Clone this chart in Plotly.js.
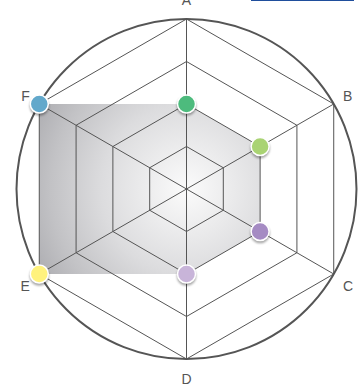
<!DOCTYPE html>
<html><head><meta charset="utf-8">
<script src="https://cdn.plot.ly/plotly-3.0.1.min.js"></script>
<style>
html,body{margin:0;padding:0;background:#fff;}
#chart{width:361px;height:387px;}
.polar3 .point{filter:drop-shadow(0px 2px 1px rgba(0,0,0,0.35));}
</style>
</head><body><div id="chart"></div>
<script>
const categories = ['A','B','C','D','E','F'];
const values = [2, 2, 2, 2, 4, 4];
const pointColors = ['#4dbb7d','#a9d373','#a58bc3','#c8b4d9','#fff27d','#62a8cb'];
const radialRange = [0, 4];
const gridLevels = [1, 2, 3, 4];

const W = 361, H = 387;
const dom = {x: [16.5/W, 356.5/W], y: [28/H, 368/H]};
const labelFont = {family: 'Liberation Sans, Arial, sans-serif', size: 14, color: '#555'};

const traces = [
  {type:'scatterpolar', subplot:'polar', r: values, theta: categories,
   mode:'lines', fill:'toself', fillcolor:'#cfcfd1', line:{width:0, color:'rgba(0,0,0,0)'}, hoverinfo:'skip'},
  {type:'scatterpolar', subplot:'polar2', r: values, theta: categories, mode:'none', hoverinfo:'skip'},
  {type:'scatterpolar', subplot:'polar3', r: values, theta: categories, mode:'markers',
   marker:{size:18, color: pointColors, line:{color:'#fff', width:1.5}}, hoverinfo:'skip'}
];

const layout = {
  width: W, height: H, margin:{l:0,r:0,t:0,b:0}, showlegend:false,
  paper_bgcolor:'#fff',
  font: labelFont,
  polar: {
    domain: dom, gridshape:'circular', bgcolor:'#fff',
    radialaxis:{range: radialRange, visible:false},
    angularaxis:{direction:'clockwise', rotation:90, showgrid:false, showline:true,
      linecolor:'#555', linewidth:2, ticks:'outside', ticklen:7, tickcolor:'rgba(0,0,0,0)',
      tickfont: labelFont}
  },
  polar2: {
    domain: dom, gridshape:'linear', bgcolor:'rgba(0,0,0,0)',
    radialaxis:{range: radialRange, tickvals: gridLevels, showticklabels:false, ticks:'',
      showline:false, showgrid:true, gridcolor:'#555', gridwidth:1},
    angularaxis:{direction:'clockwise', rotation:90, showgrid:true, gridcolor:'#555', gridwidth:1,
      showline:true, linecolor:'#555', linewidth:1, showticklabels:false, ticks:''}
  },
  polar3: {
    domain: dom, bgcolor:'rgba(0,0,0,0)',
    radialaxis:{range: radialRange, visible:false},
    angularaxis:{direction:'clockwise', rotation:90, visible:false}
  },
  shapes: [{type:'line', xref:'paper', yref:'paper', x0:251/W, x1:354/W, y0:1, y1:1,
    line:{color:'#1f4e9c', width:2}}]
};

Plotly.newPlot('chart', traces, layout, {staticPlot:true}).then(gd => {
  const svg = gd.querySelector('.main-svg');
  const path = gd.querySelector('.js-fill');
  if (!svg || !path) return;
  const ns = 'http://www.w3.org/2000/svg';
  const pt = svg.createSVGPoint();
  pt.x = (dom.x[0]+dom.x[1])/2*W; pt.y = (1-(dom.y[0]+dom.y[1])/2)*H;
  const loc = pt.matrixTransform(path.getScreenCTM().inverse());
  const rad = (dom.x[1]-dom.x[0])*W/2;
  let defs = svg.querySelector('defs');
  if (!defs) { defs = document.createElementNS(ns,'defs'); svg.insertBefore(defs, svg.firstChild); }
  const g = document.createElementNS(ns,'radialGradient');
  g.setAttribute('id','fillGrad'); g.setAttribute('gradientUnits','userSpaceOnUse');
  g.setAttribute('cx', loc.x); g.setAttribute('cy', loc.y); g.setAttribute('r', rad);
  [[0,'#fbfbfb'],[0.5,'#dcdcde'],[0.8,'#c2c2c5'],[1,'#adadb1']].forEach(([o,c]) => {
    const s = document.createElementNS(ns,'stop'); s.setAttribute('offset', o); s.setAttribute('stop-color', c); g.appendChild(s);
  });
  defs.appendChild(g);
  path.style.fill = 'url(#fillGrad)';
});
</script>
</body></html>
